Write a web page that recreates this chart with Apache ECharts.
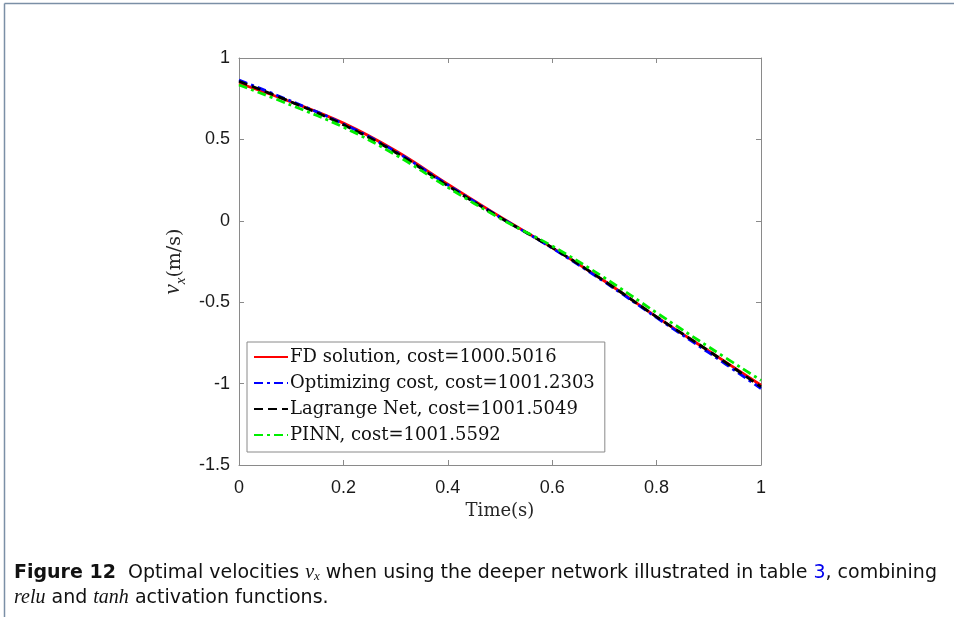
<!DOCTYPE html>
<html>
<head>
<meta charset="utf-8">
<script src="https://cdn.jsdelivr.net/npm/echarts@6/dist/echarts.min.js"></script>
<style>html,body{margin:0;padding:0;background:#fff}#c{width:954px;height:617px}</style>
</head>
<body>
<div id="c"></div>
<script>
const timeS = [0, 0.1, 0.2, 0.3, 0.4, 0.5, 0.6, 0.7, 0.8, 0.9, 1.0];
const fdSolution = [0.845, 0.73, 0.60, 0.43, 0.225, 0.025, -0.165, -0.37, -0.59, -0.80, -1.01];
const optimizingCost = [0.865, 0.735, 0.595, 0.425, 0.22, 0.022, -0.168, -0.375, -0.595, -0.81, -1.03];
const lagrangeNet = [0.857, 0.73, 0.59, 0.42, 0.215, 0.02, -0.165, -0.37, -0.59, -0.80, -1.02];
const pinn = [0.835, 0.71, 0.575, 0.405, 0.205, 0.015, -0.155, -0.35, -0.565, -0.775, -0.98];
const seriesNames = ['FD solution, cost=1000.5016', 'Optimizing cost, cost=1001.2303', 'Lagrange Net, cost=1001.5049', 'PINN, cost=1001.5592'];
const xTicks = [0, 0.2, 0.4, 0.6, 0.8, 1];
const yTicks = [-1.5, -1, -0.5, 0, 0.5, 1];

const pairs = v => timeS.map((t, i) => [t, v[i]]);
const chart = echarts.init(document.getElementById('c'));
const axisCol = '#8a8a8a';
const sans = '"Liberation Sans", Arial, sans-serif';
const capSans = '"DejaVu Sans", sans-serif';
const serif = '"DejaVu Serif", "Liberation Serif", serif';
const mathSerif = '"Liberation Serif", "DejaVu Serif", serif';

const baseX = {
  type: 'value', min: xTicks[0], max: xTicks[xTicks.length - 1], interval: 0.2,
  axisLine: { show: true, onZero: false, lineStyle: { color: axisCol, width: 1 } },
  axisTick: { show: true, inside: true, length: 5, lineStyle: { color: axisCol } },
  splitLine: { show: false }
};
const baseY = {
  type: 'value', min: yTicks[0], max: yTicks[yTicks.length - 1], interval: 0.5,
  axisLine: { show: true, onZero: false, lineStyle: { color: axisCol, width: 1 } },
  axisTick: { show: true, inside: true, length: 5, lineStyle: { color: axisCol } },
  splitLine: { show: false }
};

const mk = (name, data, color, type) => ({
  name, type: 'line', data: pairs(data), smooth: 0.4, showSymbol: false, symbol: 'none',
  lineStyle: { color, width: 2.8, type }, itemStyle: { color }, z: 3
});

chart.setOption({
  animation: false,
  backgroundColor: '#fff',
  grid: { left: 239, top: 58, width: 522, height: 407 },
  xAxis: [
    Object.assign({}, baseX, {
      position: 'bottom',
      axisLabel: { color: '#1a1a1a', fontSize: 18, fontFamily: sans, margin: 14 },
      name: 'Time(s)', nameLocation: 'middle', nameGap: 36,
      nameTextStyle: { fontFamily: serif, fontSize: 18, color: '#262626' }
    }),
    Object.assign({}, baseX, { position: 'top', axisLabel: { show: false } })
  ],
  yAxis: [
    Object.assign({}, baseY, {
      position: 'left',
      axisLabel: { color: '#1a1a1a', fontSize: 18, fontFamily: sans, margin: 9 },
      name: '{v|v}{s|x}{n|(m/s)}', nameLocation: 'middle', nameGap: 45, nameRotate: 90,
      nameTextStyle: {
        rich: {
          v: { fontFamily: mathSerif, fontStyle: 'italic', fontSize: 23, color: '#262626', verticalAlign: 'bottom' },
          s: { fontFamily: mathSerif, fontStyle: 'italic', fontSize: 15, color: '#262626', verticalAlign: 'bottom', padding: [0, 0, -4, 0] },
          n: { fontFamily: serif, fontSize: 19, color: '#262626', verticalAlign: 'bottom' }
        }
      }
    }),
    Object.assign({}, baseY, { position: 'right', axisLabel: { show: false } })
  ],
  legend: {
    orient: 'vertical', left: 247, top: 342,
    backgroundColor: '#fff', borderColor: '#8a8a8a', borderWidth: 1, borderRadius: 0,
    padding: [6, 10, 8, 6], itemGap: 8, itemWidth: 34, itemHeight: 20,
    itemStyle: { opacity: 0 },
    textStyle: { fontFamily: serif, fontSize: 18, color: '#111', padding: [0, 0, 0, -3] },
    data: seriesNames
  },
  series: [
    mk(seriesNames[0], fdSolution, '#ff0000', 'solid'),
    mk(seriesNames[1], optimizingCost, '#0000ff', [9, 4, 3, 4]),
    mk(seriesNames[2], lagrangeNet, '#000000', [9, 5]),
    mk(seriesNames[3], pinn, '#00ee00', [9, 4, 3, 4])
  ],
  graphic: [
    { type: 'line', shape: { x1: 4.5, y1: 3.5, x2: 954, y2: 3.5 }, style: { stroke: '#7b8fa6', lineWidth: 1.5 } },
    { type: 'line', shape: { x1: 4.5, y1: 3.5, x2: 4.5, y2: 617 }, style: { stroke: '#7b8fa6', lineWidth: 1.5 } },
    {
      type: 'text', left: 14, top: 563,
      style: {
        text: '{b|Figure 12}{n|  Optimal velocities }{m|v}{ms|x}{n| when using the deeper network illustrated in table }{bl|3}{n|, combining}',
        rich: {
          b: { fontFamily: capSans, fontWeight: 'bold', fontSize: 19, fill: '#111' },
          n: { fontFamily: capSans, fontSize: 19, fill: '#111' },
          bl: { fontFamily: capSans, fontSize: 19, fill: '#0000ee' },
          m: { fontFamily: mathSerif, fontStyle: 'italic', fontSize: 20, fill: '#111' },
          ms: { fontFamily: mathSerif, fontStyle: 'italic', fontSize: 13, fill: '#111', padding: [8, 0, 0, 0] }
        }
      }
    },
    {
      type: 'text', left: 14, top: 588,
      style: {
        text: '{m|relu}{n| and }{m|tanh}{n| activation functions.}',
        rich: {
          n: { fontFamily: capSans, fontSize: 19, fill: '#111' },
          m: { fontFamily: mathSerif, fontStyle: 'italic', fontSize: 20, fill: '#111' }
        }
      }
    }
  ]
});
</script>
</body>
</html>
